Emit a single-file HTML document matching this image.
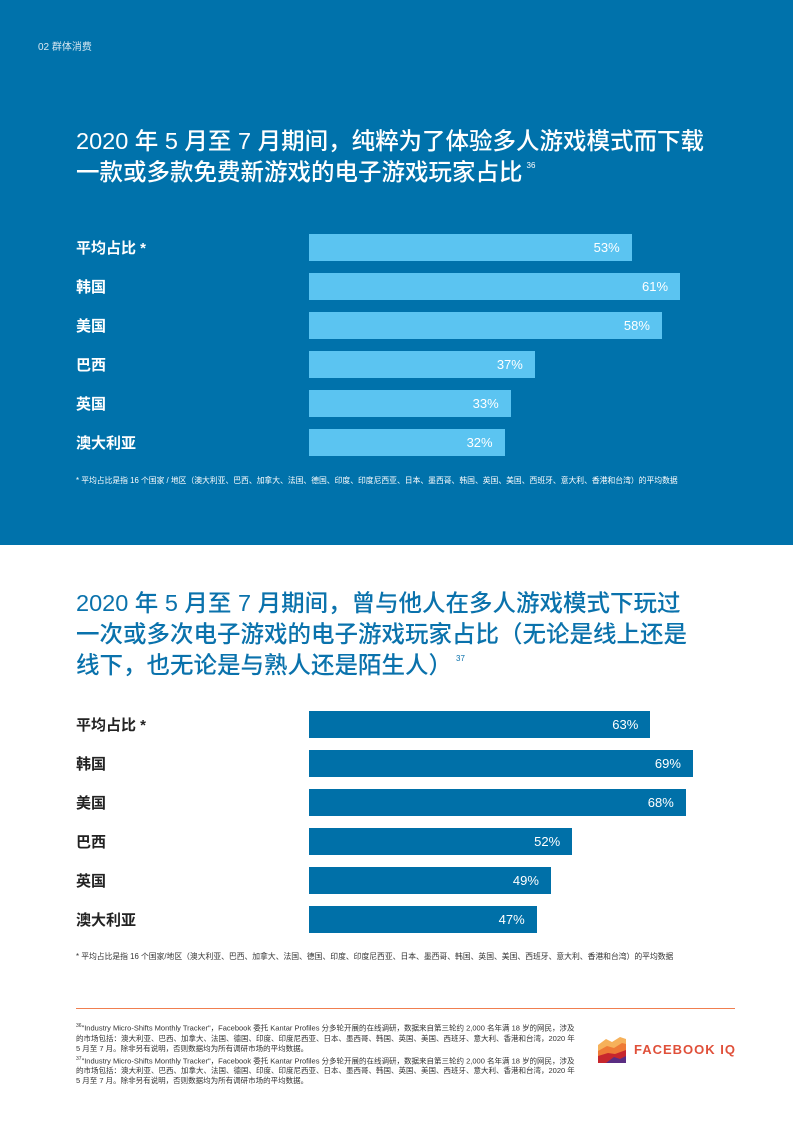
<!DOCTYPE html>
<html><head><meta charset="utf-8"><style>
*{margin:0;padding:0;box-sizing:border-box}
body{width:793px;height:1122px;position:relative;background:#fff;font-family:"Liberation Sans","Noto Sans CJK SC",sans-serif;overflow:hidden}
.abs{position:absolute}
#top{left:0;top:0;width:793px;height:545px;background:#0072AB}
.title{font-size:23.5px;line-height:31px;font-weight:500;white-space:nowrap}
.title sup{font-size:8px;line-height:0;vertical-align:12px;margin-left:4px}
.lab{font-size:15px;font-weight:bold;white-space:nowrap}
.val{font-size:13px;color:#fff;text-align:right;white-space:nowrap}
.note{font-size:7.8px;white-space:nowrap}
.foot{font-size:7.5px;line-height:10px;color:#333;width:500px}
</style></head><body>
<div id="top" class="abs"></div>
<div class="abs" style="left:38px;top:38px;font-size:10px;color:#d8e8f2">02 群体消费</div>
<div class="abs title" style="left:76px;top:126px;color:#fff">2020 年 5 月至 7 月期间，纯粹为了体验多人游戏模式而下载<br>一款或多款免费新游戏的电子游戏玩家占比<sup>36</sup></div>
<div id="c1"></div>
<div class="abs note" style="left:76px;top:475px;color:#fff">* 平均占比是指 16 个国家 / 地区（澳大利亚、巴西、加拿大、法国、德国、印度、印度尼西亚、日本、墨西哥、韩国、英国、美国、西班牙、意大利、香港和台湾）的平均数据</div>
<div class="abs title" style="left:76px;top:588px;color:#0A72AC">2020 年 5 月至 7 月期间，曾与他人在多人游戏模式下玩过<br>一次或多次电子游戏的电子游戏玩家占比（无论是线上还是<br>线下，也无论是与熟人还是陌生人）<sup>37</sup></div>
<div id="c2"></div>
<div class="abs note" style="left:76px;top:951px;color:#333">* 平均占比是指 16 个国家/地区（澳大利亚、巴西、加拿大、法国、德国、印度、印度尼西亚、日本、墨西哥、韩国、英国、美国、西班牙、意大利、香港和台湾）的平均数据</div>
<div class="abs" style="left:76px;top:1008px;width:659px;height:1px;background:#F07F50"></div>
<div class="abs foot" style="left:76px;top:1021px"><sup style="font-size:5px">36</sup>"Industry Micro-Shifts Monthly Tracker"，Facebook 委托 Kantar Profiles 分多轮开展的在线调研，数据来自第三轮约 2,000 名年满 18 岁的网民，涉及的市场包括：澳大利亚、巴西、加拿大、法国、德国、印度、印度尼西亚、日本、墨西哥、韩国、英国、美国、西班牙、意大利、香港和台湾，2020 年 5 月至 7 月。除非另有说明，否则数据均为所有调研市场的平均数据。<br><sup style="font-size:5px">37</sup>"Industry Micro-Shifts Monthly Tracker"，Facebook 委托 Kantar Profiles 分多轮开展的在线调研，数据来自第三轮约 2,000 名年满 18 岁的网民，涉及的市场包括：澳大利亚、巴西、加拿大、法国、德国、印度、印度尼西亚、日本、墨西哥、韩国、英国、美国、西班牙、意大利、香港和台湾，2020 年 5 月至 7 月。除非另有说明，否则数据均为所有调研市场的平均数据。</div>
<svg class="abs" style="left:598px;top:1037px" width="30" height="26">
<path d="M0 8 L8 2 L14 5 L22 0 L28 2 L28 26 L0 26Z" fill="#F6B15A"/>
<path d="M0 14 L9 9 L16 11 L24 6 L28 7 L28 26 L0 26Z" fill="#EE7A36"/>
<path d="M0 19 L10 16 L17 17 L28 13 L28 26 L0 26Z" fill="#C7262D"/>
<path d="M8 26 L16 20 L22 22 L28 19 L28 26Z" fill="#5A2D82"/>
</svg>
<div class="abs" style="left:634px;top:1042px;font-size:13px;font-weight:bold;color:#E0503A;letter-spacing:1px">FACEBOOK IQ</div>
<script>
const categories=["平均占比 *","韩国","美国","巴西","英国","澳大利亚"];
const values1=[53,61,58,37,33,32];
const values2=[63,69,68,52,49,47];
function draw(id,vals,top,x,color,labColor){
  const c=document.getElementById(id);
  categories.forEach((cat,i)=>{
    const y=top+i*39;
    const l=document.createElement('div');
    l.className='abs lab';l.style.left='76px';l.style.top=(y+3)+'px';l.style.color=labColor;l.textContent=cat;
    
    
    c.appendChild(l);
    const end=x(vals[i]);
    const w=end-309;
    const b=document.createElement('div');
    b.className='abs';b.style.left='309px';b.style.top=y+'px';b.style.width=w+'px';b.style.height='27px';b.style.background=color;
    
    
    c.appendChild(b);
    const v=document.createElement('div');
    v.className='abs val';v.style.left=(end-60)+'px';v.style.width='48px';v.style.top=(y+6)+'px';v.textContent=vals[i]+'%';
    
    
    c.appendChild(v);
  });
}
draw('c1',values1,234,v=>311+6.05*v,'#5BC4F1','#fff');
draw('c2',values2,711,v=>203+7.1*v,'#0070A8','#222');
</script>
</body></html>
